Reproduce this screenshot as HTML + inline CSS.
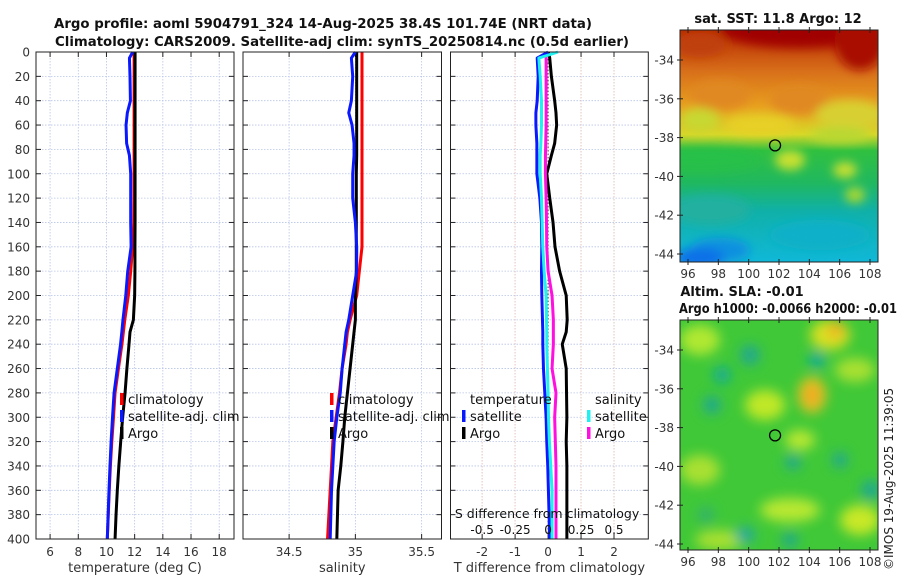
<!DOCTYPE html>
<html><head><meta charset="utf-8">
<style>
html,body{margin:0;padding:0;background:#fff;}
svg{display:block;font-family:"DejaVu Sans","Liberation Sans",sans-serif;}
</style></head>
<body>
<svg id="fig" width="900" height="580" viewBox="0 0 900 580" xmlns="http://www.w3.org/2000/svg">
<defs>
<filter id="blur6" x="-50%" y="-50%" width="200%" height="200%"><feGaussianBlur stdDeviation="5"/></filter>
<filter id="blur10" x="-50%" y="-50%" width="200%" height="200%"><feGaussianBlur stdDeviation="6"/></filter>
<linearGradient id="sstGrad" x1="0" y1="0" x2="0" y2="1">
<stop offset="0" stop-color="#b82a00"/><stop offset="0.18" stop-color="#d8701a"/>
<stop offset="0.33" stop-color="#e8a020"/><stop offset="0.45" stop-color="#d8d828"/>
<stop offset="0.52" stop-color="#30c040"/><stop offset="0.66" stop-color="#20b860"/>
<stop offset="0.78" stop-color="#10b0a8"/><stop offset="1" stop-color="#10b8d8"/>
</linearGradient>
<clipPath id="clipMap1"><rect x="680" y="30" width="198" height="232"/></clipPath>
<clipPath id="clipMap2"><rect x="680" y="320" width="198" height="230"/></clipPath>
</defs>
<g font-weight="bold" font-size="13" fill="#111">
<text x="54" y="28" textLength="538" lengthAdjust="spacingAndGlyphs">Argo profile: aoml 5904791_324 14-Aug-2025 38.4S 101.74E (NRT data)</text>
<text x="55" y="46" textLength="574" lengthAdjust="spacingAndGlyphs">Climatology: CARS2009. Satellite-adj clim: synTS_20250814.nc (0.5d earlier)</text>
</g>
<g id="panels"></g>
<g id="maps"></g>
</svg>
<script>
// ---------- DATA ----------
const depths = [0,5,20,40,50,60,75,85,100,120,140,160,180,200,220,230,240,260,280,300,320,340,360,380,400];
const tempArgo = [12.03,12.03,12.03,12.03,12.03,12.03,12.03,12.03,12.03,12.03,12.03,12.02,12.02,12.0,11.91,11.67,11.6,11.45,11.32,11.15,11.01,10.88,10.77,10.68,10.61];
const tempClim = [11.96,11.96,11.96,11.96,11.96,11.96,11.96,11.96,11.96,11.96,11.94,11.86,11.72,11.55,11.3,11.2,11.1,10.85,10.61,10.5,10.38,10.28,10.2,10.13,10.06];
const tempSat  = [11.86,11.63,11.67,11.7,11.48,11.39,11.43,11.63,11.72,11.72,11.72,11.75,11.51,11.37,11.17,11.09,11.0,10.77,10.54,10.43,10.33,10.25,10.18,10.12,10.06];
const salArgo = [35.01,35.01,35.01,35.01,35.01,35.01,35.01,35.01,35.007,35.007,35.007,35.007,35.007,35.0,35.0,34.99,34.98,34.96,34.94,34.92,34.906,34.89,34.87,34.865,34.86];
const salClim = [35.05,35.05,35.05,35.05,35.05,35.05,35.05,35.05,35.05,35.05,35.05,35.05,35.03,35.01,34.96,34.94,34.93,34.9,34.88,34.855,34.83,34.82,34.81,34.8,34.79];
const salSat  = [35.0,34.97,34.98,34.97,34.95,34.975,34.99,34.99,34.98,34.98,35.0,35.01,35.01,34.98,34.95,34.93,34.92,34.9,34.886,34.86,34.84,34.83,34.82,34.815,34.81];
const tDiffArgo = [0.01,0.05,0.1,0.2,0.24,0.26,0.2,0.1,-0.04,0.05,0.15,0.21,0.35,0.55,0.58,0.55,0.43,0.55,0.56,0.57,0.55,0.57,0.57,0.57,0.57];
const tDiffSat  = [0.0,-0.33,-0.3,-0.33,-0.37,-0.37,-0.34,-0.34,-0.34,-0.25,-0.2,-0.19,-0.2,-0.19,-0.17,-0.16,-0.16,-0.14,-0.1,-0.06,-0.04,-0.01,0.01,0.03,0.05];
const sDiffArgo = [-0.015,-0.015,-0.015,-0.015,-0.015,-0.015,-0.018,-0.02,-0.02,-0.015,-0.012,-0.01,0.0,0.03,0.04,0.04,0.04,0.03,0.06,0.05,0.055,0.06,0.06,0.06,0.06];
const sDiffSat  = [0.075,-0.07,-0.06,-0.05,-0.05,-0.05,-0.055,-0.06,-0.06,-0.05,-0.045,-0.04,-0.03,-0.015,-0.012,-0.01,-0.01,-0.005,0.0,0.003,0.01,0.02,0.03,0.03,0.03];
const depthTicks = [0,20,40,60,80,100,120,140,160,180,200,220,240,260,280,300,320,340,360,380,400];
const tempTicks = [6,8,10,12,14,16,18];
const salTicks = [34.5,35,35.5];
const salTickLabels = ["34.5","35","35.5"];
const tDiffTicks = [-2,-1,0,1,2];
const sDiffTicks = [-0.5,-0.25,0,0.25,0.5];
const latTicks = [-34,-36,-38,-40,-42,-44];
const lonTicks = [96,98,100,102,104,106,108];
const argoPos = [101.74,-38.4];

// ---------- HELPERS ----------
const NS="http://www.w3.org/2000/svg";
function mk(tag,attrs,parent){const e=document.createElementNS(NS,tag);for(const k in attrs)e.setAttribute(k,attrs[k]);if(parent)parent.appendChild(e);return e;}
function lin(d0,d1,r0,r1){return v=>r0+(v-d0)*(r1-r0)/(d1-d0);}
const Y0=52,Y1=539;
const yScale=lin(0,400,Y0,Y1);
const panelsG=document.getElementById('panels');

const panels=[
 {name:'temperature-panel',x0:36,x1:234,dom:[5,19.05],ticks:tempTicks,labels:tempTicks.map(String),xlabel:'temperature (deg C)',yl:true},
 {name:'salinity-panel',x0:243,x1:441.5,dom:[34.152,35.65],ticks:salTicks,labels:salTickLabels,xlabel:'salinity'},
 {name:'difference-panel',x0:450.5,x1:648.3,dom:[-2.96,3.04],ticks:tDiffTicks,labels:tDiffTicks.map(String),xlabel:'T difference from climatology'}
];
panels.forEach((p,i)=>{
 const g=mk('g',{},panelsG);
 
 
 p.xs=lin(p.dom[0],p.dom[1],p.x0,p.x1);
 const grid=mk('g',{stroke:'#b8c4e8','stroke-width':0.8,'stroke-dasharray':'1.5,1.5'},g);
 
 
 p.ticks.forEach(t=>mk('line',{x1:p.xs(t),x2:p.xs(t),y1:Y0,y2:Y1},grid));
 if(i===2) sDiffTicks.forEach(t=>{const x=p.xs(t*4);mk('line',{x1:x,x2:x,y1:Y0,y2:Y1,stroke:'#e8c0b0'},grid);});
 depthTicks.forEach(d=>mk('line',{x1:p.x0,x2:p.x1,y1:yScale(d),y2:yScale(d)},grid));
 const tk=mk('g',{stroke:'#222','stroke-width':1},g);
 depthTicks.forEach(d=>{const y=yScale(d);mk('line',{x1:p.x0,x2:p.x0+5,y1:y,y2:y},tk);mk('line',{x1:p.x1-5,x2:p.x1,y1:y,y2:y},tk);});
 p.ticks.forEach(t=>{const x=p.xs(t);mk('line',{x1:x,x2:x,y1:Y1,y2:Y1-5},tk);mk('line',{x1:x,x2:x,y1:Y0,y2:Y0+5},tk);});
 p.ticks.forEach((t,j)=>{const tx=mk('text',{x:p.xs(t),y:Y1+17,'text-anchor':'middle','font-size':12,fill:'#333'},g);tx.textContent=p.labels[j];
  
  });
 const xl=mk('text',{x:(p.x0+p.x1)/2,y:572,'text-anchor':'middle','font-size':13,fill:'#333'},g);xl.textContent=p.xlabel;
 
 
 if(p.yl){depthTicks.forEach(d=>{const tx=mk('text',{x:p.x0-6,y:yScale(d)+4.5,'text-anchor':'end','font-size':12,fill:'#333'},g);tx.textContent=String(d);
  
  });}
 p.g=g;
});

function line(p,xvals,scaleFn,color,name,w,dash){
 const pts=depths.map((d,k)=>scaleFn(xvals[k]).toFixed(2)+','+yScale(d).toFixed(2)).join(' ');
 const el=mk('polyline',{points:pts,fill:'none',stroke:color,'stroke-width':w||3,'stroke-linejoin':'round'},p.g);
 if(dash)el.setAttribute('stroke-dasharray',dash);
 
 
}
const P1=panels[0],P2=panels[1],P3=panels[2];
line(P1,tempClim,P1.xs,'#ff0000','temperature-climatology-line');
line(P1,tempArgo,P1.xs,'#000000','temperature-argo-line');
line(P1,tempSat,P1.xs,'#0a18ff','temperature-satellite-line');
line(P2,salClim,P2.xs,'#ff0000','salinity-climatology-line');
line(P2,salArgo,P2.xs,'#000000','salinity-argo-line');
line(P2,salSat,P2.xs,'#0a18ff','salinity-satellite-line');
const zl=mk('line',{x1:P3.xs(0),x2:P3.xs(0),y1:Y0,y2:Y1,stroke:'#444','stroke-width':1,'stroke-dasharray':'1.5,2'},P3.g);


const sxs=v=>P3.xs(v*4);
line(P3,tDiffArgo,P3.xs,'#000000','t-diff-argo-line');
line(P3,sDiffArgo,sxs,'#ff10e0','s-diff-argo-line');
line(P3,tDiffSat,P3.xs,'#0a18ff','t-diff-satellite-line');
line(P3,sDiffSat,sxs,'#20f0f0','s-diff-satellite-line');

const sl=mk('text',{x:P3.xs(0)-1,y:518,'text-anchor':'middle','font-size':12.5,fill:'#111'},P3.g);sl.textContent='S difference from climatology';


sDiffTicks.forEach(t=>{const tx=mk('text',{x:sxs(t),y:534,'text-anchor':'middle','font-size':12,fill:'#111'},P3.g);tx.textContent=String(t);
 
 });

panels.forEach(p=>{const r=mk('rect',{x:p.x0,y:Y0,width:p.x1-p.x0,height:Y1-Y0,fill:'none',stroke:'#222','stroke-width':1},p.g);
 
 });

function legend(g,x,y,items,name){
 const lg=mk('g',{},g);
 
 
 items.forEach((it,k)=>{const yy=y+k*17;
  if(it[1]) mk('rect',{x:x,y:yy-9,width:3.5,height:12,fill:it[1]},lg);
  const t=mk('text',{x:x+8,y:yy+2,'font-size':13,fill:'#111'},lg);t.textContent=it[0];});
}
legend(P1.g,120,402,[['climatology','#ff0000'],['satellite-adj. clim','#0a18ff'],['Argo','#000']],'temperature-legend');
legend(P2.g,330,402,[['climatology','#ff0000'],['satellite-adj. clim','#0a18ff'],['Argo','#000']],'salinity-legend');
legend(P3.g,462,402,[['temperature',null],['satellite','#0a18ff'],['Argo','#000']],'t-diff-legend');
legend(P3.g,587,402,[['salinity',null],['satellite','#20f0f0'],['Argo','#ff10e0']],'s-diff-legend');

// ---------- MAPS ----------
const mapsG=document.getElementById('maps');
function mapAxes(name,x0,y0,x1,y1,latTop,latBot,title,clip,draw){
 const g=mk('g',{},mapsG);
 
 
 const lonS=lin(96,108,688,870);
 const latS=lin(-34,-44,latTop,latBot);
 const img=mk('g',{'clip-path':'url(#'+clip+')'},g);
 
 
 draw(img,x0,y0,x1,y1);
 mk('rect',{x:x0,y:y0,width:x1-x0,height:y1-y0,fill:'none',stroke:'#222','stroke-width':1},g);
 latTicks.forEach(l=>{const y=latS(l);mk('line',{x1:x0-3,x2:x0+3,y1:y,y2:y,stroke:'#222'},g);
  const t=mk('text',{x:x0-6,y:y+4.5,'text-anchor':'end','font-size':12,fill:'#333'},g);t.textContent=String(l);});
 lonTicks.forEach(l=>{const x=lonS(l);mk('line',{x1:x,x2:x,y1:y1-3,y2:y1+3,stroke:'#222'},g);mk('line',{x1:x,x2:x,y1:y0-3,y2:y0+3,stroke:'#222'},g);
  const t=mk('text',{x:x,y:y1+16,'text-anchor':'middle','font-size':12,fill:'#333'},g);t.textContent=String(l);});
 const c=mk('circle',{cx:lonS(argoPos[0]),cy:latS(argoPos[1]),r:5.5,fill:'none',stroke:'#000','stroke-width':1.3},g);
 
 
 title.forEach((tt,k)=>{const a={x:tt[1],y:tt[2],'text-anchor':'middle','font-size':13,'font-weight':'bold',fill:'#111'};
  if(tt[3]){a.textLength=tt[3];a.lengthAdjust='spacingAndGlyphs';}
  const t=mk('text',a,g);t.textContent=tt[0];
  
  });
}
mapAxes('sst-map',680,30,878,262,60,254,[['sat. SST: 11.8 Argo: 12',778,23]],'clipMap1',(g,x0,y0,x1,y1)=>{
 mk('rect',{x:x0,y:y0,width:x1-x0,height:y1-y0,fill:'url(#sstGrad)'},g);
 const b=mk('g',{filter:'url(#blur6)'},g);
 [[800,30,80,18,'#a00000'],[860,40,25,30,'#a81000'],[700,45,25,12,'#c04010'],[720,95,30,15,'#e08820'],[800,100,30,15,'#e08820'],[760,125,35,10,'#e8d028'],
  [700,120,20,12,'#c8d830'],[850,115,35,15,'#d8d030'],[840,135,30,8,'#b8d830'],[700,160,60,12,'#28c048'],[790,160,15,10,'#c8e030'],[845,170,12,8,'#c8e030'],
  [710,210,40,15,'#20b0a0'],[820,235,50,15,'#10b0c8'],[720,250,30,12,'#1090e0'],[700,258,25,10,'#1070e8'],[855,195,10,8,'#a8d830']].forEach(a=>
  mk('ellipse',{cx:a[0],cy:a[1],rx:a[2],ry:a[3],fill:a[4]},b));
});
mapAxes('sla-map',680,320,878,550,350,544,[['Altim. SLA: -0.01',742,296],['Argo h1000: -0.0066 h2000: -0.01',788,313,218]],'clipMap2',(g,x0,y0,x1,y1)=>{
 mk('rect',{x:x0,y:y0,width:x1-x0,height:y1-y0,fill:'#40c838'},g);
 const b=mk('g',{filter:'url(#blur10)'},g);
 [[700,340,20,15,'#b0e830'],[830,335,20,15,'#d8e020'],[836,330,8,8,'#f0b020'],[765,405,20,15,'#c0e828'],[812,395,14,18,'#e8c020'],[812,395,6,8,'#f0a020'],
  [855,370,20,12,'#a8e030'],[800,440,15,10,'#b8e830'],[700,470,20,15,'#a8e030'],[790,510,30,12,'#b8e830'],[860,520,20,15,'#c8e828'],[720,540,25,10,'#a8e030'],
  [750,355,10,10,'#20a890'],[817,360,8,8,'#10a8a0'],[722,375,8,8,'#10a8a0'],[712,405,9,9,'#20a890'],[793,462,8,8,'#20a890'],[840,460,8,8,'#20a890'],
  [871,490,10,10,'#20a890'],[745,535,10,8,'#20a8a0'],[790,540,8,8,'#20a890'],[706,515,8,8,'#30b070']].forEach(a=>
  mk('ellipse',{cx:a[0],cy:a[1],rx:a[2],ry:a[3],fill:a[4]},b));
});
const cp=mk('text',{x:0,y:0,'font-size':12,fill:'#222',transform:'translate(893,570) rotate(-90)'},mapsG);
cp.textContent='©IMOS 19-Aug-2025 11:39:05';


</script>
</body></html>
